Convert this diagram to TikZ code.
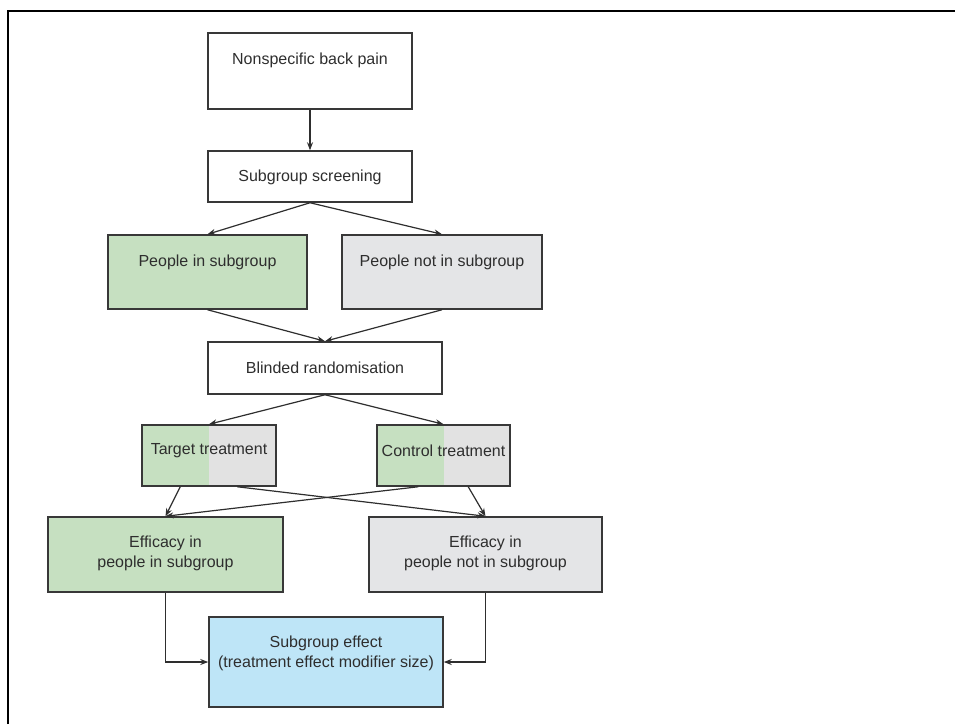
\documentclass[tikz,border=0pt]{standalone}
\usepackage{fontspec}
\setmainfont{Liberation Sans}
\usetikzlibrary{arrows.meta,calc}
\definecolor{ink}{HTML}{2E2E2E}
\definecolor{edge}{HTML}{383838}
\definecolor{grp}{HTML}{C6E0C1}
\definecolor{nogrp}{HTML}{E4E5E7}
\definecolor{mix}{HTML}{E2E2E2}
\definecolor{result}{HTML}{BEE5F7}
\begin{document}
\begin{tikzpicture}[x=1pt,y=-1pt,
  box/.style={draw=edge,line width=1.5pt,rectangle,inner sep=0pt},
  txt/.style={text=ink,font=\fontsize{16}{20}\selectfont,align=center,inner sep=0pt},
  arr/.style={draw=ink,line width=1.2pt,-{Stealth[length=8pt,width=6pt]}}]
\useasboundingbox (0,0) rectangle (955,724);
% partial frame: left and top rules
\draw[line width=2.6pt,black] (8,724) -- (8,11) -- (955,11);

% split fills of the treatment boxes
\fill[grp] (142,425) rectangle (209,486);
\fill[mix] (209,425) rectangle (276,486);
\fill[grp] (377,425) rectangle (444,486);
\fill[mix] (444,425) rectangle (510,486);

% boxes
\node[box,minimum width=204pt,minimum height=76pt] (npb) at (310,71) {};
\node[box,minimum width=204pt,minimum height=51pt] (ssc) at (310,176.5) {};
\node[box,fill=grp,minimum width=199pt,minimum height=74pt] (pin) at (207.5,272) {};
\node[box,fill=nogrp,minimum width=200pt,minimum height=74pt] (pout) at (442,272) {};
\node[box,minimum width=234pt,minimum height=52pt] (blr) at (325,368) {};
\node[box,minimum width=134pt,minimum height=61pt] (tt) at (209,455.5) {};
\node[box,minimum width=133pt,minimum height=61pt] (ct) at (443.5,455.5) {};
\node[box,fill=grp,minimum width=235pt,minimum height=75pt] (effL) at (165.5,554.5) {};
\node[box,fill=nogrp,minimum width=233pt,minimum height=75pt] (effR) at (485.5,554.5) {};
\node[box,fill=result,minimum width=234pt,minimum height=90pt] (sge) at (326,662) {};

% labels
\node[txt] (npbT) at (310,60) {Nonspecific back pain};
\node[txt] (sscT) at (310,177) {Subgroup screening};
\node[txt] (pinT) at (207.5,262) {People in subgroup};
\node[txt] (poutT) at (442,262) {People not in subgroup};
\node[txt] (blrT) at (325,368) {Blinded randomisation};
\node[txt] (ttT) at (209,451) {Target treatment};
\node[txt] (ctT) at (443.5,451) {Control treatment};
\node[txt] (effLT) at (165.5,553) {Efficacy in\\people in subgroup};
\node[txt] (effRT) at (485.5,553) {Efficacy in\\people not in subgroup};
\node[txt] (sgeT) at (326,653) {Subgroup effect\\(treatment effect modifier size)};

% connectors
\draw[arr] (npb.south) -- (ssc.north);
\draw[arr] (ssc.south) -- (pin.north);
\draw[arr] (ssc.south) -- (pout.north);
\draw[arr] (pin.south) -- (blr.north);
\draw[arr] (pout.south) -- (blr.north);
\draw[arr] (blr.south) -- (tt.north);
\draw[arr] (blr.south) -- (ct.north);
\draw[arr] ([xshift=39pt]tt.south west) -- (effL.north);
\draw[arr] ([xshift=96pt]tt.south west) -- (effR.north);
\draw[arr] ([xshift=42pt]ct.south west) -- (effL.north);
\draw[arr] ([xshift=92pt]ct.south west) -- (effR.north);
\draw[arr] (effL.south) |- (sge.west);
\draw[arr] (effR.south) |- (sge.east);
\end{tikzpicture}
\end{document}
